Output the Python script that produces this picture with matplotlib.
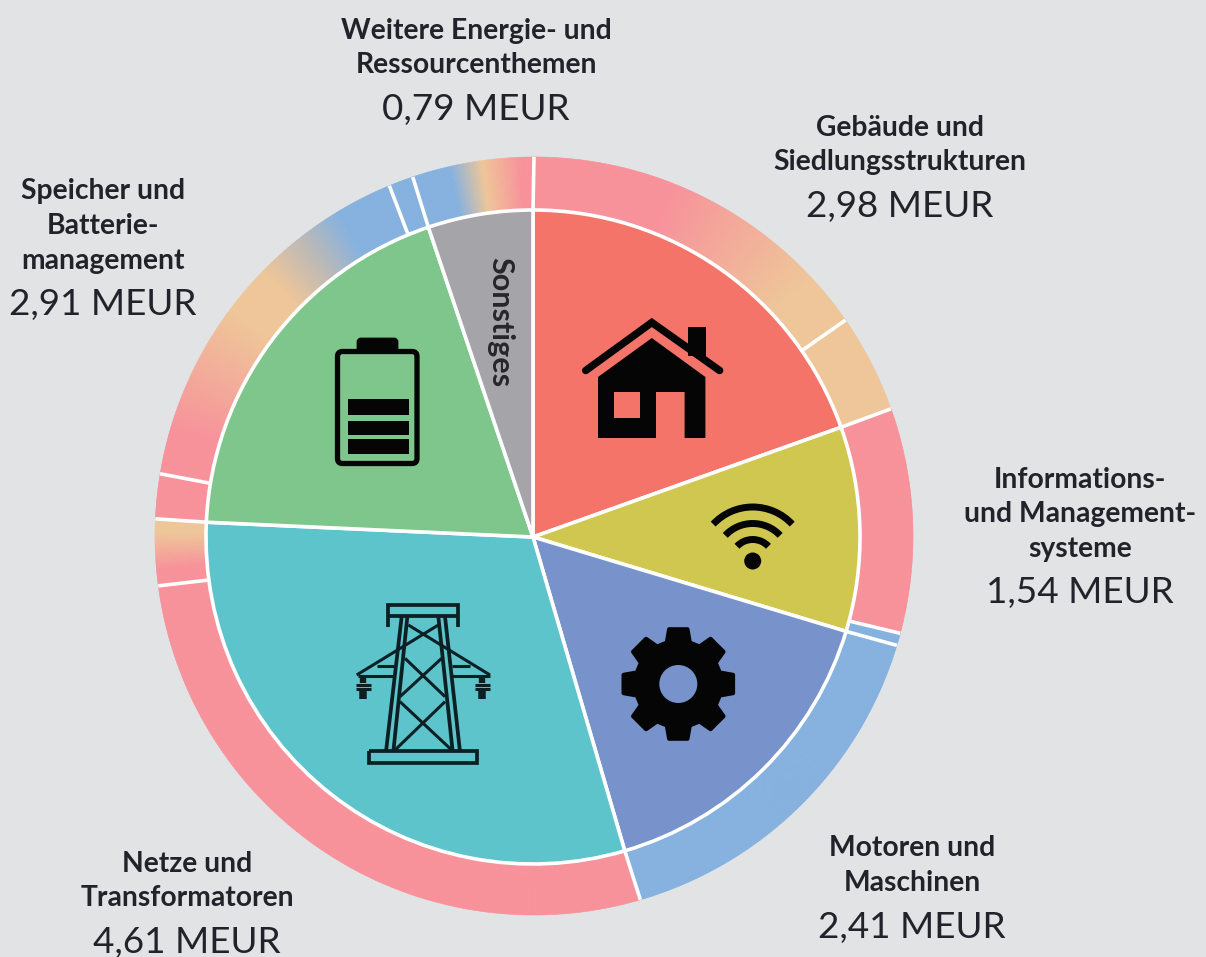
import numpy as np
import matplotlib
matplotlib.use("Agg")
import matplotlib.pyplot as plt
from matplotlib.colors import to_rgb
from matplotlib.patches import Wedge, Polygon, Rectangle, Circle, Arc, FancyBboxPatch
from matplotlib.collections import PatchCollection

# ==== Datos ====
categorias = ["Gebäude und\nSiedlungsstrukturen", "Informations-\nund Management-\nsysteme",
              "Motoren und\nMaschinen", "Netze und\nTransformatoren",
              "Speicher und\nBatterie-\nmanagement", "Weitere Energie- und\nRessourcenthemen"]
valores = [2.98, 1.54, 2.41, 4.61, 2.91, 0.79]
etiquetas_valor = ["2,98 MEUR", "1,54 MEUR", "2,41 MEUR", "4,61 MEUR", "2,91 MEUR", "0,79 MEUR"]
colores = ["#F4746A", "#CFC750", "#7893CC", "#5EC4CB", "#7EC68B", "#A5A4A9"]

# anillo exterior: trozos en MEUR, en el mismo orden (horario desde arriba)
anillo_valores = [2.34, 0.64, 1.46, 0.08, 2.41, 4.18, 0.43, 0.29, 2.46, 0.16, 0.79]

ROSA = "#F8919A"
PIEL = "#EFC698"
AZUL = "#85B1DF"
GRIS = "#BDB9B5"
# paradas del degradado de cada trozo: (fraccion, color)
anillo_paradas = [
    [(0, ROSA), (0.39, ROSA), (0.85, PIEL), (1, PIEL)],
    [(0, PIEL), (1, PIEL)],
    [(0, ROSA), (1, ROSA)],
    [(0, AZUL), (1, AZUL)],
    [(0, AZUL), (1, AZUL)],
    [(0, ROSA), (1, ROSA)],
    [(0, ROSA), (0.25, ROSA), (0.8, PIEL), (1, PIEL)],
    [(0, ROSA), (1, ROSA)],
    [(0, ROSA), (0.12, ROSA), (0.47, PIEL), (0.6, PIEL), (0.73, GRIS), (0.85, AZUL), (1, AZUL)],
    [(0, AZUL), (1, AZUL)],
    [(0, AZUL), (0.31, AZUL), (0.58, PIEL), (0.9, ROSA), (1, ROSA)],
]

# posicion de los textos en pixeles (centro de cada linea, y la cifra)
pos_x = [900, 1080, 912, 187, 103, 476]
pos_y_primera = [127.5, 479.5, 848.5, 863.5, 191.5, 30.5]

ANCHO, ALTO = 1206, 957
CX, CY = 533, ALTO - 537
RX, RY = 534, ALTO - 536
R_IN, R_OUT = 327, 379
FONDO = "#E1E3E5"
TEXTO = "#22222A"
NEGRO = "#050505"

plt.rcParams["font.family"] = ["Lato", "DejaVu Sans"]

fig = plt.figure(figsize=(ANCHO / 100, ALTO / 100), dpi=100, facecolor=FONDO)
ax = fig.add_axes([0, 0, 1, 1])
ax.set_facecolor(FONDO)

total = sum(valores)


def Y(py):
    # pasa de pixel (arriba abajo) a coordenada del eje
    return ALTO - py


# ==== Anillo exterior ====
parches = []
colores_parches = []
bordes = np.cumsum([0] + anillo_valores) / total * 360
for a0, a1, paradas in zip(bordes[:-1], bordes[1:], anillo_paradas):
    fr = [p[0] for p in paradas]
    rgb = np.array([to_rgb(p[1]) for p in paradas])
    n = max(int(a1 - a0) * 3, 1)
    pasos = np.linspace(0, 1, n + 1)
    for k in range(n):
        t = (pasos[k] + pasos[k + 1]) / 2
        c = [np.interp(t, fr, rgb[:, i]) for i in range(3)]
        ang0 = a0 + (a1 - a0) * pasos[k]
        ang1 = a0 + (a1 - a0) * pasos[k + 1]
        parches.append(Wedge((RX, RY), R_OUT, 90 - ang1, 90 - ang0, width=R_OUT - R_IN + 2))
        colores_parches.append(c)
ax.add_collection(PatchCollection(parches, facecolors=colores_parches,
                                  edgecolors=colores_parches, linewidths=0.4))

# separadores del anillo
for a in bordes[:-1]:
    t = np.radians(90 - a)
    ax.plot([CX + R_IN * np.cos(t), RX + R_OUT * np.cos(t)],
            [CY + R_IN * np.sin(t), RY + R_OUT * np.sin(t)],
            color="white", lw=2.6, solid_capstyle="butt", zorder=2)

# ==== Tarta interior ====
wedges, _ = ax.pie(valores, colors=colores, startangle=90, counterclock=False,
                   center=(CX, CY), radius=R_IN,
                   wedgeprops={"edgecolor": "white", "linewidth": 2.6}, normalize=True)
for w in wedges:
    w.set_zorder(3)
ax.set_xlim(0, ANCHO)
ax.set_ylim(0, ALTO)
ax.set_aspect("equal")
ax.axis("off")

# ==== Textos ====
for nombre, valor, x, y0 in zip(categorias, etiquetas_valor, pos_x, pos_y_primera):
    lineas = nombre.split("\n")
    for i, linea_txt in enumerate(lineas):
        ax.text(x, Y(y0 + i * 34.7), linea_txt, ha="center", va="center", fontsize=20.3,
                fontweight="bold", color=TEXTO, zorder=6)
    ax.text(x, Y(y0 + (len(lineas) - 1) * 34.7 + 44), valor, ha="center", va="center",
            fontsize=26.6, color=TEXTO, zorder=6)

ax.text(500, Y(322), "Sonstiges", rotation=-90, ha="center", va="center", fontsize=22,
        fontweight="bold", color="#26262C", zorder=6)


# ==== Iconos ====
def poligono(puntos, color=NEGRO):
    ax.add_patch(Polygon([(x, Y(y)) for x, y in puntos], closed=True, facecolor=color,
                         edgecolor="none", zorder=5))


def linea(puntos, lw, color=NEGRO, cap="butt"):
    ax.plot([p[0] for p in puntos], [Y(p[1]) for p in puntos], color=color, lw=lw,
            solid_capstyle=cap, solid_joinstyle="miter", zorder=5)


def caja(x0, y0, x1, y1, color=NEGRO):
    ax.add_patch(Rectangle((x0, Y(y1)), x1 - x0, y1 - y0, facecolor=color, edgecolor="none", zorder=5))


# casa
caja(687.5, 327, 706.4, 356)
linea([(585.7, 370.5), (651.8, 322.5), (719.6, 370.5)], 5.4, cap="round")
poligono([(651.8, 338), (705.4, 377), (705.4, 438), (684.6, 438), (684.6, 392), (656, 392),
          (656, 438), (598, 438), (598, 377)])
caja(614.3, 392, 640, 418, colores[0])

# bateria
ax.add_patch(FancyBboxPatch((358, Y(352)), 39, 13, boxstyle="round,pad=0,rounding_size=3",
                            facecolor=NEGRO, edgecolor=NEGRO, lw=2, zorder=5))
ax.add_patch(FancyBboxPatch((337.5, Y(463.5)), 79.5, 112, boxstyle="round,pad=0,rounding_size=5",
                            facecolor=colores[4], edgecolor=NEGRO, lw=3.8, zorder=5))
for y0, y1 in [(399.3, 415), (420.7, 435), (439.3, 454.3)]:
    ax.add_patch(Rectangle((347.7, Y(y1)), 61.3, y1 - y0, facecolor=NEGRO, edgecolor="none", zorder=6))

# wifi
for r in [54, 37.5, 21.5]:
    ax.add_patch(Arc((752.7, Y(561)), 2 * r, 2 * r, theta1=43, theta2=137, color=NEGRO,
                     lw=5, capstyle="butt", zorder=5))
ax.add_patch(Circle((752.7, Y(561)), 8.5, facecolor=NEGRO, edgecolor="none", zorder=5))

# engranaje
gx, gy = 678.3, 684
puntos = []
for k in range(8):
    a = k * 45
    for da, r in [(-15.5, 43), (-9.5, 55.5), (9.5, 55.5), (15.5, 43)]:
        t = np.radians(a + da)
        puntos.append((gx + r * np.cos(t), gy + r * np.sin(t)))
ax.add_patch(Polygon([(x, Y(y)) for x, y in puntos], closed=True, facecolor=NEGRO,
                     edgecolor=NEGRO, lw=3, joinstyle="round", zorder=5))
ax.add_patch(Circle((gx, Y(gy)), 19, facecolor=colores[2], edgecolor="none", zorder=6))


# torre (coordenadas del recorte, 3x)
def T(x, y):
    return (330 + x / 3, 590 + y / 3)


OSC = "#0B2024"
gruesas = [
    [(175, 110), (175, 45), (385, 45), (385, 110)],
    [(175, 78), (385, 78)],
    [(215, 80), (168, 485)], [(232, 80), (190, 485)],
    [(345, 80), (390, 485)], [(325, 80), (368, 485)],
    [(118, 484), (440, 484), (440, 520), (118, 520), (118, 484)],
]
finas = [
    [(235, 105), (480, 255)], [(325, 105), (80, 255)],
    [(225, 205), (345, 320)], [(335, 205), (210, 320)],
    [(210, 335), (365, 480)], [(345, 335), (195, 480)],
    [(140, 228), (195, 228)], [(85, 258), (190, 258)],
    [(365, 228), (420, 228)], [(365, 258), (480, 258)],
    [(78, 285), (122, 285)], [(78, 298), (122, 298)],
    [(435, 285), (480, 285)], [(435, 298), (480, 298)],
]
for tramo in gruesas:
    linea([T(*p) for p in tramo], 2.7, OSC)
for tramo in finas:
    linea([T(*p) for p in tramo], 2.2, OSC)
for xa in [100, 455]:
    linea([T(xa, 258), T(xa, 280)], 4.6, OSC)
    linea([T(xa, 303), T(xa, 327)], 5.4, OSC)

fig.savefig("out.png", dpi=100, facecolor=FONDO)
